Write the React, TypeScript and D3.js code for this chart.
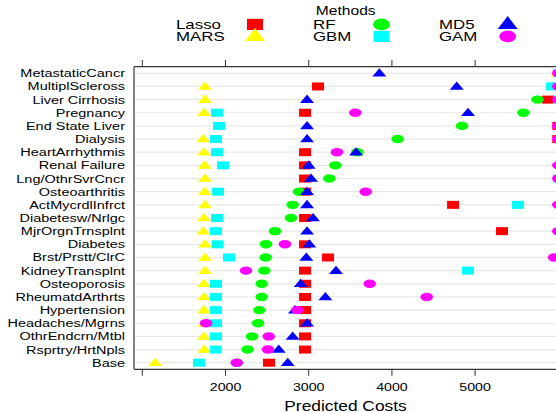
import React from 'react';
import { scaleLinear, scalePoint } from 'd3';

// categories, top to bottom
const categories = [
    'MetastaticCancr', 'MultiplScleross', 'Liver Cirrhosis', 'Pregnancy', 'End State Liver',
    'Dialysis', 'HeartArrhythmis', 'Renal Failure', 'Lng/OthrSvrCncr', 'Osteoarthritis',
    'ActMycrdlInfrct', 'Diabetesw/Nrlgc', 'MjrOrgnTrnsplnt', 'Diabetes', 'Brst/Prstt/ClrC',
    'KidneyTransplnt', 'Osteoporosis', 'RheumatdArthrts', 'Hypertension', 'Headaches/Mgrns',
    'OthrEndcrn/Mtbl', 'Rsprtry/HrtNpls', 'Base',
];

const lasso = [6300, 3112, 5875, 2956, 6000, 6000, 2956, 2956, 2956, 2956, 4735, 2956, 5323, 2956, 3232, 2956, 2956, 2956, 2956, 2956, 2956, 2955, 2523];
const mars = [5990, 1754, 1754, 1742, 6400, 1733, 1742, 1750, 1754, 1750, 1754, 1742, 1733, 1754, 1754, 1754, 1742, 1742, 1742, 1742, 1742, 1745, 1153];
const rf = [6400, 6400, 5750, 5580, 4843, 4069, 3584, 3320, 3248, 2884, 2807, 2787, 2595, 2487, 2483, 2467, 2435, 2435, 2407, 2391, 2319, 2265, 2140];
const gbm = [6010, 5925, 6010, 1898, 1922, 1886, 1898, 1970, 6010, 1910, 5516, 1898, 1886, 1906, 2042, 4915, 1886, 1886, 1886, 1886, 1886, 1884, 1681];
const md5 = [3849, 4779, 2980, 4915, 2980, 2980, 3569, 3000, 3028, 2980, 2980, 3052, 2980, 3007, 2971, 3328, 2904, 3200, 2835, 2980, 2807, 2640, 2748];
const gam = [6000, 6000, 6000, 3560, 6000, 6000, 3340, 6000, 6000, 3685, 6000, 6300, 6000, 2715, 5950, 2246, 3733, 4418, 2863, 1766, 2520, 2510, 2135];

// 1000 gets a tick but no label, as in the original
const tickValues = [1000, 2000, 3000, 4000, 5000];
const tickLabels = ['', '2000', '3000', '4000', '5000'];

const FONT = '"Liberation Sans", Arial, Helvetica, sans-serif';

// drawing order follows the key: Lasso, MARS, RF, GBM, MD5, GAM
const series = [
    { name: 'Lasso', values: lasso, color: '#ff0000', shape: 'square' },
    { name: 'MARS', values: mars, color: '#ffff00', shape: 'triangle' },
    { name: 'RF', values: rf, color: '#00ff00', shape: 'circle' },
    { name: 'GBM', values: gbm, color: '#00ffff', shape: 'square' },
    { name: 'MD5', values: md5, color: '#0000ff', shape: 'triangle' },
    { name: 'GAM', values: gam, color: '#ff00ff', shape: 'circle' },
];

function Marker({ shape, color, x, y, big = false }) {
    const w = big ? 8 : 6;
    const h = big ? 5.6 : 4;
    if (shape === 'square') {
        return <rect x={x - w} y={y - h} width={w * 2} height={h * 2} fill={color} />;
    }
    if (shape === 'circle') {
        return <ellipse cx={x} cy={y} rx={w * 1.05} ry={h * 1.05} fill={color} />;
    }
    const tw = big ? 10 : 7;
    const up = big ? 8.3 : 5;
    const down = big ? 4.5 : 3.3;
    return <path d={`M${x},${y - up}L${x + tw},${y + down}L${x - tw},${y + down}Z`} fill={color} />;
}

function SText({ x, y, size, sx, anchor = 'start', children }) {
    return (
        <text
            transform={`translate(${x},${y}) scale(${sx},1)`}
            fontFamily={FONT}
            fontSize={size}
            textAnchor={anchor}
            fill="#000"
        >
            {children}
        </text>
    );
}

export default function App() {
    const left = 134;
    const top = 66.7;
    const bottom = 369.3;
    const W = 556;
    const H = 412;

    const x = scaleLinear().domain([900, 6400]).range([left, left + 5500 * 0.0832]);
    const y = scalePoint().domain(categories).range([top, bottom]).padding(0.5);

    const legendCols = [
        { lx: 176, mx: 255 },
        { lx: 313, mx: 381.5 },
        { lx: 439, mx: 507.7 },
    ];
    const legendRows = [24.4, 36.4];

    return (
        <svg
            width={W}
            height={H}
            style={{ position: 'absolute', left: 0, top: 0, background: '#fff', overflow: 'hidden' }}
        >
            {/* key */}
            <SText x={345.7} y={15} size={12.5} sx={1.25} anchor="middle">Methods</SText>
            {series.map((s, i) => {
                const col = legendCols[Math.floor(i / 2)];
                const ry = legendRows[i % 2];
                return (
                    <g key={s.name}>
                        <SText x={col.lx} y={ry + 4.6} size={12.5} sx={1.35}>{s.name}</SText>
                        <Marker shape={s.shape} color={s.color} x={col.mx} y={ry} big />
                    </g>
                );
            })}

            {/* grid */}
            {categories.map((c) => (
                <line key={`g-${c}`} x1={left} x2={W} y1={y(c)} y2={y(c)} stroke="#e8e8e8" strokeWidth={1.2} />
            ))}

            {/* row labels */}
            {categories.map((c) => (
                <SText key={`l-${c}`} x={125} y={y(c) + 4} size={11.5} sx={1.26} anchor="end">{c}</SText>
            ))}

            {/* points */}
            {series.map((s) => (
                <g key={`p-${s.name}`}>
                    {s.values.map((v, i) => (
                        <Marker key={i} shape={s.shape} color={s.color} x={x(v)} y={y(categories[i])} />
                    ))}
                </g>
            ))}

            {/* frame */}
            <line x1={left} x2={W + 5} y1={top} y2={top} stroke="#333" strokeWidth={1.2} />
            <line x1={left} x2={W + 5} y1={bottom} y2={bottom} stroke="#333" strokeWidth={1.2} />
            <line x1={left} x2={left} y1={top} y2={bottom} stroke="#333" strokeWidth={1.2} />

            {/* ticks */}
            {tickValues.map((t, i) => (
                <g key={`t-${t}`}>
                    <line x1={x(t)} x2={x(t)} y1={top - 6.7} y2={top} stroke="#333" />
                    <line x1={x(t)} x2={x(t)} y1={bottom} y2={bottom + 6.5} stroke="#333" />
                    {tickLabels[i] ? (
                        <SText x={x(t)} y={390.7} size={11} sx={1.29} anchor="middle">{tickLabels[i]}</SText>
                    ) : null}
                </g>
            ))}

            <SText x={345.5} y={410.5} size={14} sx={1.24} anchor="middle">Predicted Costs</SText>
        </svg>
    );
}
